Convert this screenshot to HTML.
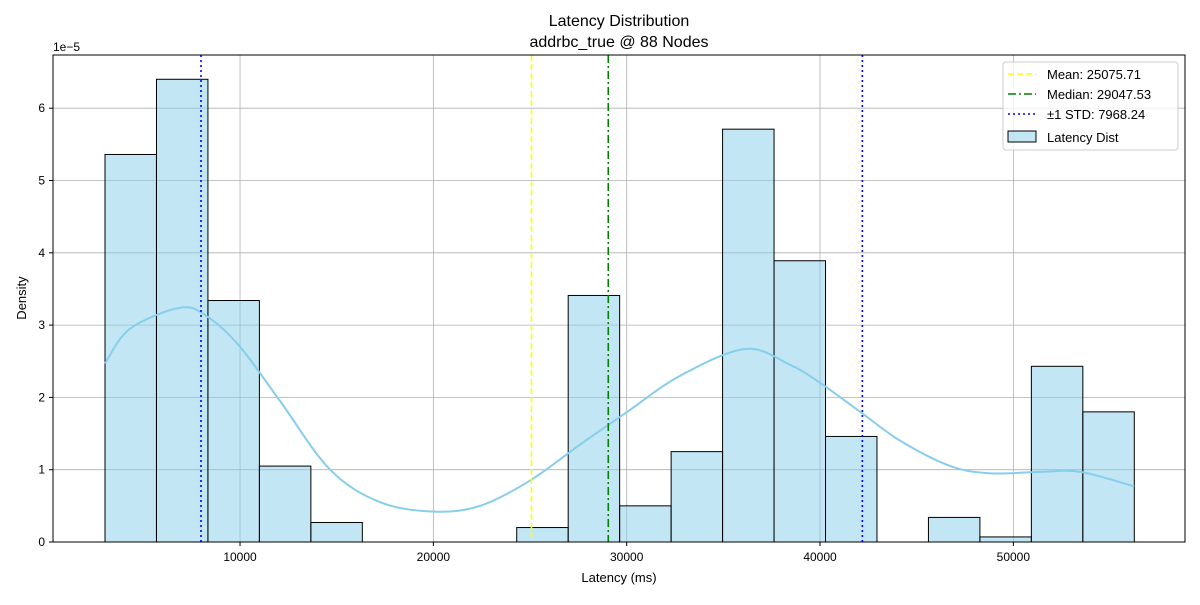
<!DOCTYPE html>
<html><head><meta charset="utf-8"><style>
body{margin:0;background:#fff}
svg text{font-family:"Liberation Sans","DejaVu Sans",sans-serif;fill:#000}
</style></head><body>
<svg id="chart" width="1200" height="600" xmlns="http://www.w3.org/2000/svg"></svg>
<script>
const binStart = 3016;
const binWidth = 2662;
const densities = [5.36,6.4,3.34,1.05,0.27,0,0,0,0.2,3.41,0.5,1.25,5.71,3.89,1.46,0,0.34,0.07,2.43,1.8];
const kdeX = [3016,4310,6900,8300,10000,12070,14660,17250,20040,22420,25000,27600,30030,32770,36130,38460,40010,42080,44150,46740,48810,51400,53470,56250];
const kdeY = [2.47,2.95,3.24,3.12,2.7,1.95,1.0,0.55,0.42,0.5,0.85,1.35,1.8,2.3,2.67,2.45,2.2,1.8,1.4,1.05,0.95,0.97,0.97,0.77];
const xTicks = [10000,20000,30000,40000,50000];
const yTicks = [0,1,2,3,4,5,6];
const meanVal = 25075.71, medianVal = 29047.53, stdLow = 7982, stdHigh = 42190;
const L=53,R=1185,T=55,B=542;
const xs = v => 46.7 + v*0.019333;
const ys = v => 542 - v*72.3;
const svg = document.getElementById('chart');
const NS='http://www.w3.org/2000/svg';
function mk(tag, attrs, parent){const e=document.createElementNS(NS,tag);for(const k in attrs)e.setAttribute(k,attrs[k]);(parent||svg).appendChild(e);return e;}
xTicks.forEach(t=>{const g=mk('line',{x1:xs(t),x2:xs(t),y1:T,y2:B,stroke:'#b0b0b0','stroke-width':0.8});

});
yTicks.forEach(t=>{const g=mk('line',{x1:L,x2:R,y1:ys(t),y2:ys(t),stroke:'#b0b0b0','stroke-width':0.8});

});
densities.forEach((d,i)=>{if(d<=0)return;const x0=xs(binStart+i*binWidth),x1=xs(binStart+(i+1)*binWidth);
const b=mk('rect',{x:x0,y:ys(d),width:x1-x0,height:ys(0)-ys(d),fill:'rgba(135,206,235,0.5)',stroke:'#000','stroke-width':1});

});
// smooth kde via catmull-rom
const P=kdeX.map((x,i)=>[xs(x),ys(kdeY[i])]);
let d='M'+P[0][0]+','+P[0][1];
for(let i=0;i<P.length-1;i++){const p0=P[Math.max(0,i-1)],p1=P[i],p2=P[i+1],p3=P[Math.min(P.length-1,i+2)];
d+=' C'+(p1[0]+(p2[0]-p0[0])/6)+','+(p1[1]+(p2[1]-p0[1])/6)+' '+(p2[0]-(p3[0]-p1[0])/6)+','+(p2[1]-(p3[1]-p1[1])/6)+' '+p2[0]+','+p2[1];}
const kp=mk('path',{d:d,fill:'none',stroke:'#87ceeb','stroke-width':2});


function vline(v,color,dash,name){const l=mk('line',{x1:xs(v),x2:xs(v),y1:T,y2:B,stroke:color,'stroke-width':1.6,'stroke-dasharray':dash});

}
vline(meanVal,'#ffff00','6,3','mean-line');
vline(medianVal,'#008000','8,3,2,3','median-line');
vline(stdLow,'#0000ff','2,3','std-low-line');
vline(stdHigh,'#0000ff','2,3','std-high-line');
const fr=mk('rect',{x:L,y:T,width:R-L,height:B-T,fill:'none',stroke:'#000','stroke-width':1});


xTicks.forEach(t=>{mk('line',{x1:xs(t),x2:xs(t),y1:B,y2:B+4,stroke:'#000'});
const tx=mk('text',{x:xs(t),y:B+19,'text-anchor':'middle','font-size':12});tx.textContent=t;

});
yTicks.forEach(t=>{mk('line',{x1:L-4,x2:L,y1:ys(t),y2:ys(t),stroke:'#000'});
const tx=mk('text',{x:L-8,y:ys(t)+4,'text-anchor':'end','font-size':12});tx.textContent=t;

});
function txt(s,attrs,name){const t=mk('text',attrs);t.textContent=s;

return t;}
txt('1e\u22125',{x:53,y:51,'font-size':12},'y-scale-label');
txt('Latency Distribution',{x:619,y:26,'text-anchor':'middle','font-size':16},'chart-title');
txt('addrbc_true @ 88 Nodes',{x:619,y:47,'text-anchor':'middle','font-size':16},'chart-subtitle');
txt('Latency (ms)',{x:619,y:582,'text-anchor':'middle','font-size':13},'x-axis-title');
txt('Density',{x:26,y:298,'text-anchor':'middle','font-size':13,transform:'rotate(-90 26 298)'},'y-axis-title');
const lg=mk('g',{});


mk('rect',{x:1003,y:62,width:175,height:88,rx:3,fill:'#fff','fill-opacity':0.8,stroke:'#ccc'},lg);
const items=[['Mean: 25075.71','#ffff00','6,3'],['Median: 29047.53','#008000','8,3,2,3'],['\u00b11 STD: 7968.24','#0000ff','2,3']];
items.forEach((it,i)=>{const y=74+i*20;mk('line',{x1:1008,x2:1036,y1:y,y2:y,stroke:it[1],'stroke-width':1.6,'stroke-dasharray':it[2]},lg);
const t=mk('text',{x:1047,y:y+5,'font-size':13},lg);t.textContent=it[0];

});
mk('rect',{x:1008,y:131,width:28,height:11,fill:'rgba(135,206,235,0.5)',stroke:'#000'},lg);
const lt=mk('text',{x:1047,y:142,'font-size':13},lg);lt.textContent='Latency Dist';


</script>
</body></html>
